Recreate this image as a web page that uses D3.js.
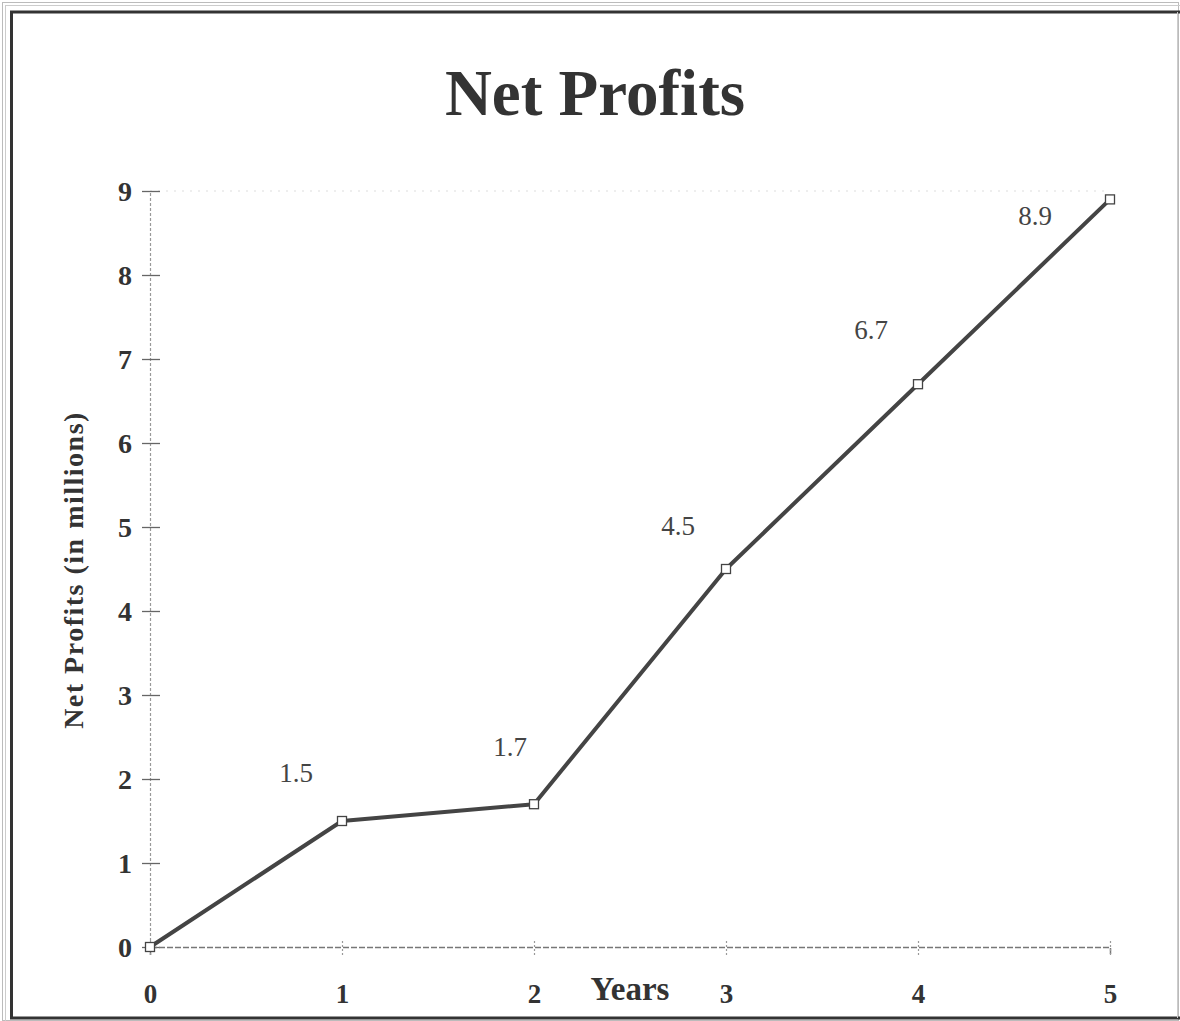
<!DOCTYPE html>
<html>
<head>
<meta charset="utf-8">
<script src="https://cdn.jsdelivr.net/npm/d3@7/dist/d3.min.js"></script>
<style>
  html, body { margin: 0; padding: 0; background: #fff; }
  svg { display: block; }
  text { font-family: "Liberation Serif", "Times New Roman", serif; }
</style>
</head>
<body>
<script>
// Net profits per year, in millions
const years = [0, 1, 2, 3, 4, 5];
const profits = [0, 1.5, 1.7, 4.5, 6.7, 8.9];
const valueLabels = ["", "1.5", "1.7", "4.5", "6.7", "8.9"];
const yTicks = [0, 1, 2, 3, 4, 5, 6, 7, 8, 9];
const xTicks = [0, 1, 2, 3, 4, 5];

// Label placement relative to each point (layout only)
const labelOffsets = [[0, 0], [-46, -39], [-24, -48], [-48, -34], [-47, -45], [-75, 26]];

const W = 1180, H = 1021;
const svg = d3.select("body").append("svg").attr("width", W).attr("height", H);

// Frame: faint outer double rule, heavier inner rule
svg.append("rect").attr("x", 2.5).attr("y", 2.5).attr("width", W - 4).attr("height", H - 3)
  .attr("fill", "none").attr("stroke", "#bbb").attr("stroke-width", 1);
svg.append("line").attr("x1", 5.5).attr("x2", 5.5).attr("y1", 5).attr("y2", H)
  .attr("stroke", "#ccc").attr("stroke-width", 1);
svg.append("line").attr("x1", 5).attr("x2", W).attr("y1", 5.5).attr("y2", 5.5)
  .attr("stroke", "#ccc").attr("stroke-width", 1);
svg.append("path")
  .attr("d", `M${W},12 H11.5 V1018 H${W}`)
  .attr("fill", "none").attr("stroke", "#333").attr("stroke-width", 3);
svg.append("line").attr("x1", W - 2.5).attr("x2", W - 2.5).attr("y1", 12).attr("y2", 1018)
  .attr("stroke", "#ccc").attr("stroke-width", 1);

const x = d3.scaleLinear().domain([0, 5]).range([150, 1110]);
const y = d3.scaleLinear().domain([0, 9]).range([947, 191]);

// Title
svg.append("text").attr("x", 595).attr("y", 115).attr("text-anchor", "middle")
  .attr("font-size", 65).attr("font-weight", "bold").attr("fill", "#333")
  .text("Net Profits");

// Faint top gridline
svg.append("line").attr("x1", x(0)).attr("x2", x(5)).attr("y1", y(9)).attr("y2", y(9))
  .attr("stroke", "#ddd").attr("stroke-width", 1).attr("stroke-dasharray", "2,6");

// Y axis
const yAxis = svg.append("g").attr("transform", `translate(${x(0)},0)`)
  .call(d3.axisLeft(y).tickValues(yTicks).tickSize(8).tickPadding(10).tickFormat(d3.format("d")));
yAxis.select(".domain").attr("stroke", "#999").attr("stroke-width", 1.2).attr("stroke-dasharray", "3,2");
yAxis.selectAll(".tick line").attr("stroke", "#666").attr("stroke-width", 1.3).attr("x2", 10).attr("x1", -8);
yAxis.selectAll(".tick text").attr("font-size", 28).attr("font-weight", "bold").attr("fill", "#333")
  .attr("font-family", "Liberation Serif, serif").attr("dy", "0.34em");

// X axis
const xAxis = svg.append("g").attr("transform", `translate(0,${y(0)})`)
  .call(d3.axisBottom(x).tickValues(xTicks).tickSize(8).tickPadding(29).tickFormat(d3.format("d")));
xAxis.select(".domain").attr("stroke", "#777").attr("stroke-width", 1.5).attr("stroke-dasharray", "6,2");
xAxis.selectAll(".tick line").attr("stroke", "#999").attr("stroke-width", 1.2)
  .attr("y1", -6).attr("y2", 10).attr("stroke-dasharray", "2,2");
xAxis.selectAll(".tick text").attr("font-size", 27).attr("font-weight", "bold").attr("fill", "#333")
  .attr("font-family", "Liberation Serif, serif");

// Axis titles
svg.append("text").attr("x", 630).attr("y", 1000).attr("text-anchor", "middle")
  .attr("font-size", 33).attr("font-weight", "bold").attr("fill", "#333").text("Years");
svg.append("text").attr("transform", `translate(83,570) rotate(-90)`).attr("text-anchor", "middle")
  .attr("font-size", 28).attr("font-weight", "bold").attr("fill", "#333")
  .attr("letter-spacing", 1.5)
  .text("Net Profits (in millions)");

// Series line
const pts = years.map((yr, i) => ({ x: yr, v: profits[i], label: valueLabels[i], off: labelOffsets[i] }));
svg.append("path").datum(pts)
  .attr("d", d3.line().x(d => x(d.x)).y(d => y(d.v)))
  .attr("fill", "none").attr("stroke", "#444").attr("stroke-width", 4).attr("stroke-linejoin", "round");

// Square markers
svg.selectAll("rect.marker").data(pts).join("rect").attr("class", "marker")
  .attr("x", d => x(d.x) - 4.5).attr("y", d => y(d.v) - 4.5)
  .attr("width", 9).attr("height", 9)
  .attr("fill", "#fff").attr("stroke", "#444").attr("stroke-width", 1.3);

// Value labels
svg.selectAll("text.val").data(pts.filter(d => d.label)).join("text").attr("class", "val")
  .attr("x", d => x(d.x) + d.off[0]).attr("y", d => y(d.v) + d.off[1])
  .attr("text-anchor", "middle").attr("font-size", 27).attr("fill", "#444")
  .text(d => d.label);
</script>
</body>
</html>
